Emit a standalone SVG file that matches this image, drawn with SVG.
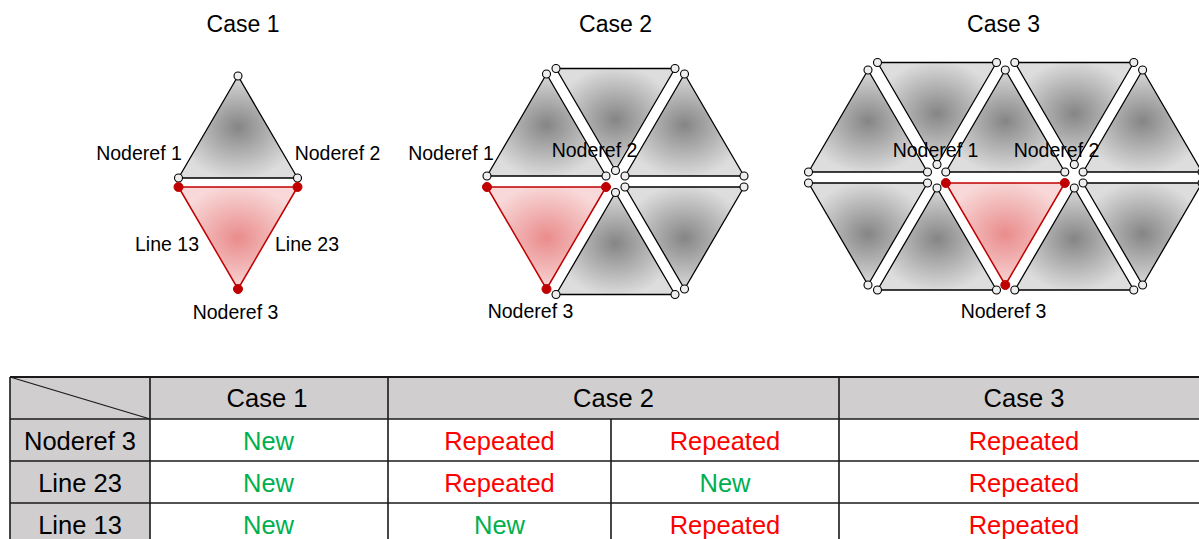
<svg xmlns="http://www.w3.org/2000/svg" xmlns:xlink="http://www.w3.org/1999/xlink" width="1199" height="539" viewBox="0 0 1199 539">
<defs>
<radialGradient id="gGrey" cx="50%" cy="50%" r="52%">
<stop offset="0" stop-color="#858585"/>
<stop offset="1" stop-color="#dddddd"/>
</radialGradient>
<radialGradient id="gRed" cx="50%" cy="50%" r="52%">
<stop offset="0" stop-color="#ea8c8c"/>
<stop offset="1" stop-color="#f8d8d8"/>
</radialGradient>
</defs>
<style>
.tri{fill:url(#gGrey);stroke:#000;stroke-width:1.3;stroke-linejoin:round}
.rtri{fill:url(#gRed);stroke:#c00000;stroke-width:1.5;stroke-linejoin:round}
.wc{fill:#eeeeee;stroke:#000;stroke-width:1.1}
.rc{fill:#c00000;stroke:#c00000;stroke-width:1}
.lbl{font-family:"Liberation Sans",Arial,sans-serif;font-size:19.5px;fill:#000;text-anchor:middle}
.ttl{font-family:"Liberation Sans",Arial,sans-serif;font-size:23px;fill:#000;text-anchor:middle}
.tt{font-family:"Liberation Sans",Arial,sans-serif;font-size:25.5px;text-anchor:middle}
.blk{fill:#000}.grn{fill:#00b050}.red{fill:#ff0000}
.grid{stroke:#1a1a1a;stroke-width:1.6;fill:none}
.hdr{fill:#d0cece}
</style>

<g id="titles">
<text class="ttl" x="243" y="31.5">Case 1</text>
<text class="ttl" x="615.5" y="31.5">Case 2</text>
<text class="ttl" x="1003.5" y="31.5">Case 3</text>
</g>

<g id="case1">
<g id="c1-upper">
<polygon class="tri" points="178.5,178 238,76 297.5,178"/>
<circle class="wc" cx="238" cy="76" r="4"/><circle class="wc" cx="178.5" cy="178" r="4"/><circle class="wc" cx="297.5" cy="178" r="4"/>
</g>
<g id="c1-red">
<polygon class="rtri" points="178.5,187 297.5,187 238,289"/>
<circle class="rc" cx="178.5" cy="187" r="4.5"/><circle class="rc" cx="297.5" cy="187" r="4.5"/><circle class="rc" cx="238" cy="289" r="4.5"/>
</g>
<text class="lbl" x="139" y="160">Noderef 1</text>
<text class="lbl" x="337.5" y="160">Noderef 2</text>
<text class="lbl" x="167" y="250.5">Line 13</text>
<text class="lbl" x="307" y="250.5">Line 23</text>
<text class="lbl" x="235.5" y="318.5">Noderef 3</text>
</g>

<g id="case2">
<g id="c2-ul"><polygon class="tri" points="487,176 546.5,74 606,176"/>
<circle class="wc" cx="487" cy="176" r="4"/><circle class="wc" cx="546.5" cy="74" r="4"/><circle class="wc" cx="606" cy="176" r="4"/></g>
<g id="c2-t"><polygon class="tri" points="556,68.5 675,68.5 615.5,170.5"/>
<circle class="wc" cx="556" cy="68.5" r="4"/><circle class="wc" cx="675" cy="68.5" r="4"/><circle class="wc" cx="615.5" cy="170.5" r="4"/></g>
<g id="c2-ur"><polygon class="tri" points="625,176 684.5,74 744,176"/>
<circle class="wc" cx="625" cy="176" r="4"/><circle class="wc" cx="684.5" cy="74" r="4"/><circle class="wc" cx="744" cy="176" r="4"/></g>
<g id="c2-lr"><polygon class="tri" points="625,187 744,187 684.5,289"/>
<circle class="wc" cx="625" cy="187" r="4"/><circle class="wc" cx="744" cy="187" r="4"/><circle class="wc" cx="684.5" cy="289" r="4"/></g>
<g id="c2-b"><polygon class="tri" points="615.5,192.5 675,294.5 556,294.5"/>
<circle class="wc" cx="615.5" cy="192.5" r="4"/><circle class="wc" cx="675" cy="294.5" r="4"/><circle class="wc" cx="556" cy="294.5" r="4"/></g>
<g id="c2-red"><polygon class="rtri" points="487,187 606,187 546.5,289"/>
<circle class="rc" cx="487" cy="187" r="4.5"/><circle class="rc" cx="606" cy="187" r="4.5"/><circle class="rc" cx="546.5" cy="289" r="4.5"/></g>
<text class="lbl" x="451" y="160">Noderef 1</text>
<text class="lbl" x="594.5" y="156.5">Noderef 2</text>
<text class="lbl" x="530.5" y="317.5">Noderef 3</text>
</g>

<g id="case3">
<g id="c3-tu0"><polygon class="tri" points="808.5,172 868,70 927.5,172"/>
<circle class="wc" cx="808.5" cy="172" r="4"/><circle class="wc" cx="868" cy="70" r="4"/><circle class="wc" cx="927.5" cy="172" r="4"/></g>
<g id="c3-tu1"><polygon class="tri" points="945.8,172 1005.3,70 1064.8,172"/>
<circle class="wc" cx="945.8" cy="172" r="4"/><circle class="wc" cx="1005.3" cy="70" r="4"/><circle class="wc" cx="1064.8" cy="172" r="4"/></g>
<g id="c3-tu2"><polygon class="tri" points="1083.1,172 1142.6,70 1202.1,172"/>
<circle class="wc" cx="1083.1" cy="172" r="4"/><circle class="wc" cx="1142.6" cy="70" r="4"/><circle class="wc" cx="1202.1" cy="172" r="4"/></g>
<g id="c3-ti0"><polygon class="tri" points="877.5,62.5 996.5,62.5 937,164.5"/>
<circle class="wc" cx="877.5" cy="62.5" r="4"/><circle class="wc" cx="996.5" cy="62.5" r="4"/><circle class="wc" cx="937" cy="164.5" r="4"/></g>
<g id="c3-ti1"><polygon class="tri" points="1014.8,62.5 1133.8,62.5 1074.3,164.5"/>
<circle class="wc" cx="1014.8" cy="62.5" r="4"/><circle class="wc" cx="1133.8" cy="62.5" r="4"/><circle class="wc" cx="1074.3" cy="164.5" r="4"/></g>
<g id="c3-bi0"><polygon class="tri" points="808.5,183 927.5,183 868,285"/>
<circle class="wc" cx="808.5" cy="183" r="4"/><circle class="wc" cx="927.5" cy="183" r="4"/><circle class="wc" cx="868" cy="285" r="4"/></g>
<g id="c3-bi2"><polygon class="tri" points="1083.1,183 1202.1,183 1142.6,285"/>
<circle class="wc" cx="1083.1" cy="183" r="4"/><circle class="wc" cx="1202.1" cy="183" r="4"/><circle class="wc" cx="1142.6" cy="285" r="4"/></g>
<g id="c3-bu0"><polygon class="tri" points="877.5,290 937,188 996.5,290"/>
<circle class="wc" cx="877.5" cy="290" r="4"/><circle class="wc" cx="937" cy="188" r="4"/><circle class="wc" cx="996.5" cy="290" r="4"/></g>
<g id="c3-bu1"><polygon class="tri" points="1014.8,290 1074.3,188 1133.8,290"/>
<circle class="wc" cx="1014.8" cy="290" r="4"/><circle class="wc" cx="1074.3" cy="188" r="4"/><circle class="wc" cx="1133.8" cy="290" r="4"/></g>
<g id="c3-red"><polygon class="rtri" points="945.8,183 1064.8,183 1005.3,285"/>
<circle class="rc" cx="945.8" cy="183" r="4.5"/><circle class="rc" cx="1064.8" cy="183" r="4.5"/><circle class="rc" cx="1005.3" cy="285" r="4.5"/></g>
<text class="lbl" x="935.5" y="156.5">Noderef 1</text>
<text class="lbl" x="1056.5" y="156.5">Noderef 2</text>
<text class="lbl" x="1003.5" y="317.5">Noderef 3</text>
</g>

<g id="table">
<rect class="hdr" x="10" y="377" width="1199" height="42"/>
<rect class="hdr" x="10" y="419" width="140" height="126"/>
<g class="grid">
<line x1="10" y1="377" x2="1209" y2="377" stroke-width="2"/>
<line x1="10" y1="419" x2="1209" y2="419"/>
<line x1="10" y1="461" x2="1209" y2="461"/>
<line x1="10" y1="503" x2="1209" y2="503"/>
<line x1="10" y1="377" x2="10" y2="545"/>
<line x1="150" y1="377" x2="150" y2="545"/>
<line x1="388" y1="377" x2="388" y2="545"/>
<line x1="611" y1="419" x2="611" y2="545"/>
<line x1="839" y1="377" x2="839" y2="545"/>
<line x1="1209" y1="377" x2="1209" y2="545"/>
<line x1="10" y1="377" x2="150" y2="419" stroke-width="1.3"/>
</g>
<text class="tt blk" x="267" y="407">Case 1</text>
<text class="tt blk" x="613.5" y="407">Case 2</text>
<text class="tt blk" x="1024" y="407">Case 3</text>
<text class="tt blk" x="80" y="450">Noderef 3</text>
<text class="tt blk" x="80" y="492">Line 23</text>
<text class="tt blk" x="80" y="533.5">Line 13</text>
<text class="tt grn" x="268.5" y="450">New</text>
<text class="tt grn" x="268.5" y="492">New</text>
<text class="tt grn" x="268.5" y="533.5">New</text>
<text class="tt red" x="499.5" y="450">Repeated</text>
<text class="tt red" x="499.5" y="492">Repeated</text>
<text class="tt grn" x="499.5" y="533.5">New</text>
<text class="tt red" x="725" y="450">Repeated</text>
<text class="tt grn" x="725" y="492">New</text>
<text class="tt red" x="725" y="533.5">Repeated</text>
<text class="tt red" x="1024" y="450">Repeated</text>
<text class="tt red" x="1024" y="492">Repeated</text>
<text class="tt red" x="1024" y="533.5">Repeated</text>
</g>
</svg>
